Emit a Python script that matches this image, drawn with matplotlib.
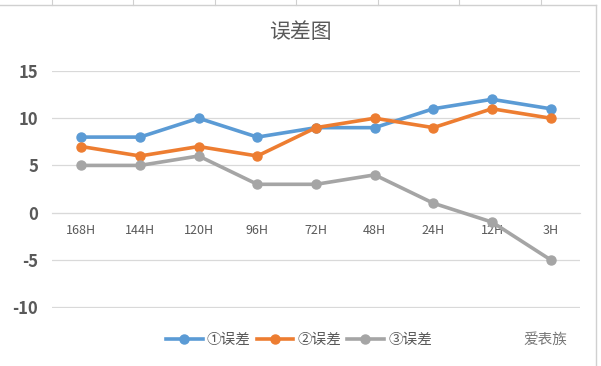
import matplotlib.pyplot as plt
from matplotlib.lines import Line2D

plt.rcParams['font.family'] = ['Noto Sans CJK SC', 'DejaVu Sans']

# data
categories = ['168H', '144H', '120H', '96H', '72H', '48H', '24H', '12H', '3H']
err1 = [8, 8, 10, 8, 9, 9, 11, 12, 11]
err2 = [7, 6, 7, 6, 9, 10, 9, 11, 10]
err3 = [5, 5, 6, 3, 3, 4, 1, -1, -5]
series_names = ['①误差', '②误差', '③误差']
yticks = [-10, -5, 0, 5, 10, 15]

COLORS = ['#5B9BD5', '#ED7D31', '#A5A5A5']
GRID = '#D9D9D9'
TEXT = '#595959'

fig = plt.figure(figsize=(6.01, 3.66), dpi=100)

# spreadsheet frame around the chart
fig.add_artist(Line2D([0, 596 / 601], [1 - 5 / 366] * 2, transform=fig.transFigure, color='#D0D0D0', lw=1))
fig.add_artist(Line2D([596 / 601] * 2, [0, 1 - 5 / 366], transform=fig.transFigure, color='#D0D0D0', lw=1))
for gx in [52, 133, 215, 296, 378, 459, 541]:
    fig.add_artist(Line2D([gx / 601] * 2, [1 - 5 / 366, 1], transform=fig.transFigure, color='#D0D0D0', lw=0.8))

ax = fig.add_axes([52 / 601, 1 - 308 / 366, (580 - 52) / 601, (308 - 71) / 366])
x = list(range(len(categories)))
for vals, name, c in zip([err1, err2, err3], series_names, COLORS):
    ax.plot(x, vals, color=c, lw=2.6, marker='o', markersize=6.5, label=name, zorder=3)

ax.set_xlim(-0.5, len(categories) - 0.5)
ax.set_ylim(-10.1, 15)
ax.set_yticks(yticks)
ax.set_yticklabels([str(v) for v in yticks], fontsize=12, fontweight='bold', color=TEXT)
ax.yaxis.grid(True, color=GRID, lw=0.9)
ax.set_axisbelow(True)
for s in ['top', 'right', 'left']:
    ax.spines[s].set_visible(False)
ax.spines['bottom'].set_position(('data', 0))
ax.spines['bottom'].set_color(GRID)
ax.set_xticks(x)
ax.set_xticklabels(categories, fontsize=9, color=TEXT)
ax.tick_params(axis='x', length=0, pad=8)
ax.tick_params(axis='y', length=0, pad=10)

fig.text(0.5, 1 - 32 / 366, '误差图', ha='center', va='center', fontsize=15, color=TEXT)

fig.legend(loc='center', bbox_to_anchor=(299 / 601, 1 - 340 / 366), ncol=3, frameon=False,
           fontsize=10.5, handlelength=2.5, columnspacing=0.4, handletextpad=0.3,
           labelcolor=TEXT)

fig.text(545 / 601, 1 - 340 / 366, '爱表族', ha='center', va='center', fontsize=10.5, color='#777777')

fig.savefig('out.png', dpi=100)
